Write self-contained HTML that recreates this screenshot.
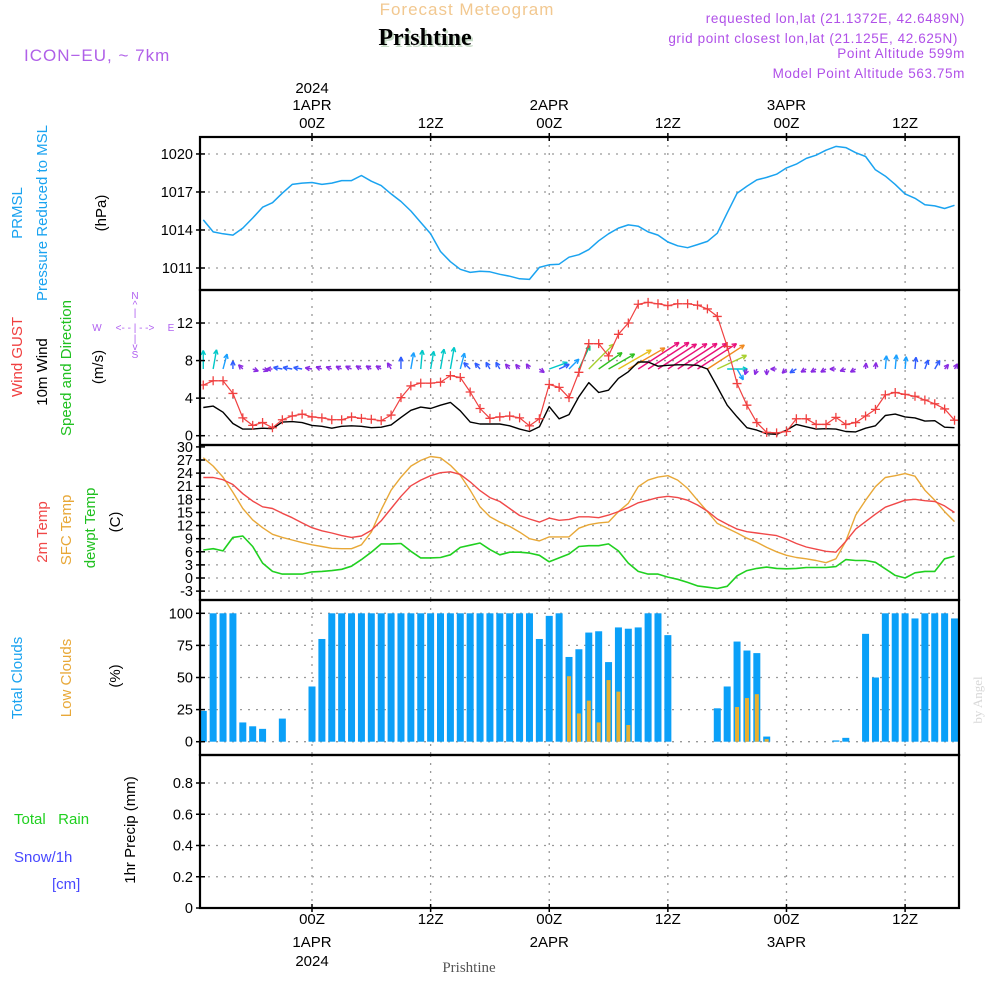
<!DOCTYPE html>
<html><head><meta charset="utf-8"><title>Forecast Meteogram Prishtine</title>
<style>
html,body{margin:0;padding:0;background:#fff;}
svg{display:block;font-family:"Liberation Sans",sans-serif;}
</style></head>
<body>
<svg id="chart" width="1000" height="1000" viewBox="0 0 1000 1000" xmlns="http://www.w3.org/2000/svg">
  <g id="header">
    <text x="467" y="15" font-size="17" fill="#f2c890" text-anchor="middle" letter-spacing="1">Forecast Meteogram</text>
    <text x="427" y="47" font-size="24" font-weight="bold" font-family="Liberation Serif, serif" fill="#c8dcc8" text-anchor="middle">Prishtine</text>
    <text x="425" y="45" font-size="24" font-weight="bold" font-family="Liberation Serif, serif" fill="#000" text-anchor="middle">Prishtine</text>
    <text x="24" y="61" font-size="17" fill="#b060e8" letter-spacing="1">ICON−EU, ~ 7km</text>
    <text x="965" y="23" font-size="13.5" fill="#b050e8" text-anchor="end" letter-spacing="0.6">requested lon,lat (21.1372E, 42.6489N)</text>
    <text x="958" y="43" font-size="13.5" fill="#b050e8" text-anchor="end" letter-spacing="0.6">grid point closest lon,lat (21.125E, 42.625N)</text>
    <text x="965" y="58" font-size="13.5" fill="#b050e8" text-anchor="end" letter-spacing="0.6">Point Altitude 599m</text>
    <text x="965" y="78" font-size="13.5" fill="#b050e8" text-anchor="end" letter-spacing="0.6">Model Point Altitude 563.75m</text>
  </g>
  <g id="left-labels" font-size="15">
    <text transform="translate(22,213) rotate(-90)" text-anchor="middle" fill="#1aa3f0">PRMSL</text>
    <text transform="translate(47,213) rotate(-90)" text-anchor="middle" fill="#1aa3f0">Pressure Reduced to MSL</text>
    <text transform="translate(106,213) rotate(-90)" text-anchor="middle" fill="#000">(hPa)</text>
    <text transform="translate(22,357) rotate(-90)" text-anchor="middle" fill="#f04040">Wind GUST</text>
    <text transform="translate(47,372) rotate(-90)" text-anchor="middle" fill="#000">10m Wind</text>
    <text transform="translate(71,368) rotate(-90)" text-anchor="middle" fill="#20c020">Speed and Direction</text>
    <text transform="translate(103,367) rotate(-90)" text-anchor="middle" fill="#000">(m/s)</text>
    <g fill="#b060f0" font-size="10" text-anchor="middle">
      <text x="135" y="299">N</text><text x="135" y="308">^</text><text x="135" y="316">|</text>
      <text x="97" y="331">W</text><text x="135" y="331">&lt;- - | - -&gt;</text><text x="171" y="331">E</text>
      <text x="135" y="342">|</text><text x="135" y="350">v</text><text x="135" y="358">S</text>
    </g>
    <text transform="translate(47,532) rotate(-90)" text-anchor="middle" fill="#f04848">2m Temp</text>
    <text transform="translate(71,530) rotate(-90)" text-anchor="middle" fill="#e8a838">SFC Temp</text>
    <text transform="translate(95,528) rotate(-90)" text-anchor="middle" fill="#20c020">dewpt Temp</text>
    <text transform="translate(120,522) rotate(-90)" text-anchor="middle" fill="#000">(C)</text>
    <text transform="translate(22,678) rotate(-90)" text-anchor="middle" fill="#1aa3f0">Total Clouds</text>
    <text transform="translate(71,678) rotate(-90)" text-anchor="middle" fill="#e8a838">Low Clouds</text>
    <text transform="translate(120,676) rotate(-90)" text-anchor="middle" fill="#000">(%)</text>
    <text x="14" y="824" fill="#20d020" xml:space="preserve">Total   Rain</text>
    <text x="14" y="862" fill="#4848ff">Snow/1h</text>
    <text x="52" y="889" fill="#4848ff">[cm]</text>
    <text transform="translate(135,830) rotate(-90)" text-anchor="middle" fill="#000">1hr Precip (mm)</text>
  </g>
  <g id="grid"></g>
  <g id="marks"></g>
  <g id="axes"></g>
  <text transform="translate(982,700) rotate(-90)" text-anchor="middle" font-size="13" font-family="Liberation Serif, serif" fill="#d8d8d8">by Angel</text>
  <text x="469" y="972" text-anchor="middle" font-size="15" font-family="Liberation Serif, serif" fill="#555">Prishtine</text>
</svg>
<script>
const hours = [];
for (let h = -11; h <= 65; h++) hours.push(h);
const pressure = [1014.8,1013.85,1013.7,1013.6,1014.15,1014.95,1015.8,1016.15,1016.9,1017.6,
1017.7,1017.75,1017.6,1017.7,1017.9,1017.9,1018.3,1017.85,1017.5,1016.85,
1016.25,1015.5,1014.6,1013.7,1012.3,1011.5,1010.9,1010.65,1010.75,1010.7,
1010.5,1010.35,1010.15,1010.1,1011.05,1011.25,1011.3,1011.85,1012.05,1012.45,
1013.15,1013.7,1014.15,1014.4,1014.3,1013.85,1013.6,1013.05,1012.75,1012.6,
1012.85,1013.1,1013.75,1015.35,1016.9,1017.45,1017.95,1018.15,1018.4,1018.9,
1019.2,1019.65,1019.9,1020.3,1020.6,1020.5,1020.1,1019.8,1018.75,1018.25,
1017.6,1016.85,1016.5,1016.0,1015.9,1015.7,1015.95];
const gust = [5.4,5.85,5.85,4.5,1.9,1.1,1.4,0.85,1.7,2.1,
2.3,2.0,1.9,1.7,1.7,2.0,1.85,1.75,1.6,2.2,
4.05,5.3,5.6,5.6,5.7,6.4,6.2,4.65,2.9,1.85,
2.0,2.1,1.9,1.05,1.8,5.45,5.15,4.05,6.75,9.8,
9.8,8.5,10.8,12.0,14.0,14.2,14.05,13.85,14.05,14.05,
13.9,13.5,12.7,9.5,5.55,3.25,1.4,0.35,0.3,0.45,
1.8,1.8,1.2,1.2,1.95,1.2,1.4,2.1,2.8,4.35,
4.6,4.4,4.2,3.8,3.4,2.85,1.65];
const windSpeed = [3.0,3.15,2.5,1.3,0.7,0.7,0.8,0.75,1.45,1.5,
1.4,1.1,1.0,0.8,1.0,1.05,1.0,0.85,0.9,1.15,
1.95,2.7,3.05,2.9,3.25,3.55,2.65,1.45,1.25,1.25,
1.25,1.05,0.7,0.45,0.95,3.1,1.8,2.25,4.15,5.65,
4.6,4.85,6.1,6.8,7.85,7.85,7.4,7.5,7.55,7.55,
7.5,7.1,5.2,3.25,2.0,0.85,0.6,0.2,0.15,0.6,
1.2,0.95,0.7,0.75,0.7,0.45,0.4,0.8,1.05,2.15,
2.3,2.0,1.9,1.55,1.6,0.9,0.85];
const windDir = [0,10,15,0,315,110,110,270,280,280,
280,280,290,290,295,295,300,300,300,330,
0,10,5,10,10,10,15,315,320,330,
330,320,320,330,125,70,65,45,25,45,
55,60,60,60,57,57,57,57,57,57,
57,57,65,90,150,200,200,180,270,225,
240,240,240,240,270,250,240,5,5,5,
5,5,5,20,30,40,30];
const temp2m = [23.0,23.0,22.5,21.4,19.3,17.6,16.3,15.9,14.8,13.8,
12.6,11.5,10.8,10.3,9.7,9.3,9.6,10.9,13.1,15.9,
18.7,21.1,22.4,23.4,24.1,24.3,23.7,22.0,20.0,18.4,
17.5,15.9,14.3,13.5,12.8,13.7,13.2,13.4,14.0,14.0,
13.8,14.4,15.2,16.1,17.2,17.8,18.4,18.7,18.4,17.8,
16.7,15.3,13.5,12.3,11.2,10.6,10.3,10.0,9.7,8.9,
7.9,7.1,6.6,6.1,5.9,8.4,11.2,12.9,14.6,16.2,
17.0,17.8,18.0,17.7,17.5,16.5,15.0];
const tempSfc = [27.5,25.6,23.1,19.6,15.9,13.3,11.5,10.0,9.3,8.7,
8.1,7.6,7.2,6.8,6.7,6.7,7.6,10.5,15.6,20.1,
23.1,25.6,26.9,27.8,27.5,25.8,23.5,20.1,16.3,14.0,
12.8,11.8,10.5,9.0,8.5,9.4,9.4,9.4,11.4,12.2,
12.6,12.8,15.2,17.1,20.9,22.4,23.1,23.4,22.4,20.5,
17.8,15.2,12.5,11.4,10.3,9.1,8.2,7.0,6.0,5.2,
4.7,4.4,4.0,3.5,4.4,8.4,14.4,17.8,20.9,23.0,
23.4,23.9,23.3,20.1,17.8,15.2,12.9];
const dewpoint = [6.4,6.7,6.2,9.3,9.6,7.2,3.4,1.5,0.9,0.9,
0.9,1.4,1.5,1.7,2.0,2.7,4.2,5.9,7.8,7.8,
7.9,6.1,4.6,4.6,4.7,5.3,7.0,7.5,8.0,6.5,
5.3,5.9,5.9,5.7,5.2,3.7,4.6,5.5,7.2,7.4,
7.4,7.8,6.2,3.4,1.5,0.9,0.9,0.2,-0.3,-1.0,
-1.8,-2.1,-2.4,-1.9,0.5,1.7,2.2,2.5,2.2,2.1,
2.2,2.4,2.4,2.4,2.6,4.2,4.0,4.0,3.6,2.1,
0.6,0.0,1.2,1.5,1.5,4.4,5.0];
const totalClouds = [24,100,100,100,15,12,10,0,18,0,
0,43,80,100,100,100,100,100,100,100,
100,100,100,100,100,100,100,100,100,100,
100,100,100,100,80,98,100,66,72,85,
86,62,89,88,89,100,100,83,0,0,
0,0,26,43,78,71,69,4,0,0,
0,0,0,0,1,3,0,84,50,100,
100,100,96,100,100,100,96];
const lowClouds = [0,0,0,0,0,0,0,0,0,0,
0,0,0,0,0,0,0,0,0,0,
0,0,0,0,0,0,0,0,0,0,
0,0,0,0,0,0,0,51,22,32,
15,48,39,13,0,0,0,0,0,0,
0,0,0,0,27,34,37,2,0,0,
0,0,0,0,0,0,0,0,0,0,
0,0,0,0,0,0,0];
const precip = hours.map(() => 0);
const pressureTicks = [1011,1014,1017,1020];
const windTicks = [0,4,8,12];
const tempTicks = [-3,0,3,6,9,12,15,18,21,24,27,30];
const cloudTicks = [0,25,50,75,100];
const precipTicks = [0,0.2,0.4,0.6,0.8];
const timeTicks = [0,12,24,36,48,60];
const timeLabels = ["00Z","12Z","00Z","12Z","00Z","12Z"];
const dayLabels = {0:"1APR",24:"2APR",48:"3APR"};

const NS = "http://www.w3.org/2000/svg";
const L = 200, R = 959;
const xH = h => 312 + 9.885 * h;
const panels = {
  p: {top:137, bot:290, y: v => 268 - (v - 1011) * 12.67},
  w: {top:290, bot:445, y: v => 435.7 - v * 9.39},
  t: {top:445, bot:600, y: v => 578 - v * 4.37},
  c: {top:600, bot:755, y: v => 741.7 - v * 1.284},
  r: {top:755, bot:908, y: v => 908 - v * 156.25}
};
function mk(tag, attrs, parent) {
  const e = document.createElementNS(NS, tag);
  for (const k in attrs) e.setAttribute(k, attrs[k]);
  parent.appendChild(e);
  return e;
}
const grid = document.getElementById('grid');
const marks = document.getElementById('marks');
const axes = document.getElementById('axes');

function yAxis(key, ticks, fmt) {
  const P = panels[key];
  ticks.forEach(t => {
    const y = P.y(t);
    if (y > P.top + 2 && y < P.bot - 2) {
      const g = mk('line', {x1:L, x2:R, y1:y, y2:y, stroke:'#999', 'stroke-width':1.3, 'stroke-dasharray':'2,6'}, grid);
      
      
    }
    const tk = mk('line', {x1:L-4, x2:L+5, y1:y, y2:y, stroke:'#000', 'stroke-width':1.5}, axes);
    
    
    const tx = mk('text', {x:L-7, y:y+5, 'font-size':14.5, 'text-anchor':'end', fill:'#000'}, axes);
    tx.textContent = fmt ? fmt(t) : t;
    
    
  });
  timeTicks.forEach(h => {
    const x = xH(h);
    const g = mk('line', {x1:x, x2:x, y1:P.top, y2:P.bot, stroke:'#999', 'stroke-width':1.3, 'stroke-dasharray':'2,6'}, grid);
    
    
  });
  const fr = mk('rect', {x:L, y:P.top, width:R-L, height:P.bot-P.top, fill:'none', stroke:'#000', 'stroke-width':2.2}, axes);
  
  
}
yAxis('p', pressureTicks);
yAxis('w', windTicks);
yAxis('t', tempTicks);
yAxis('c', cloudTicks);
yAxis('r', precipTicks, v => v === 0 ? '0' : v.toFixed(1));

// time labels
timeTicks.forEach((h, i) => {
  const x = xH(h);
  const t1 = mk('text', {x:x, y:128, 'font-size':15, 'text-anchor':'middle', fill:'#000'}, axes);
  t1.textContent = timeLabels[i];
  
  
  const t2 = mk('text', {x:x, y:924, 'font-size':15, 'text-anchor':'middle', fill:'#000'}, axes);
  t2.textContent = timeLabels[i];
  
  
  if (dayLabels[h]) {
    const d1 = mk('text', {x:x, y:110, 'font-size':15, 'text-anchor':'middle', fill:'#000'}, axes);
    d1.textContent = dayLabels[h];
    
    
    const d2 = mk('text', {x:x, y:947, 'font-size':15, 'text-anchor':'middle', fill:'#000'}, axes);
    d2.textContent = dayLabels[h];
    
    
  }
  [137,908].forEach(yy => {
    const tk = mk('line', {x1:x, x2:x, y1:yy-4, y2:yy+4, stroke:'#000', 'stroke-width':1.5}, axes);
    
    
  });
});
const y1 = mk('text', {x:xH(0), y:93, 'font-size':15, 'text-anchor':'middle', fill:'#000'}, axes);
y1.textContent = '2024';


const y2 = mk('text', {x:xH(0), y:966, 'font-size':15, 'text-anchor':'middle', fill:'#000'}, axes);
y2.textContent = '2024';



// clip
const defs = mk('defs', {}, marks);
const cp = mk('clipPath', {id:'plotclip'}, defs);
mk('rect', {x:L, y:130, width:R-L, height:790}, cp);
const layer = mk('g', {'clip-path':'url(#plotclip)'}, marks);



function line(arr, key, color, name, w) {
  const pts = arr.map((v, i) => xH(hours[i]).toFixed(1) + ',' + panels[key].y(v).toFixed(1)).join(' ');
  const pl = mk('polyline', {points:pts, fill:'none', stroke:color, 'stroke-width':w || 1.4, 'stroke-linejoin':'round'}, layer);
  
  
  return pl;
}
line(pressure, 'p', '#1aa3f0', 'pressure-line', 1.5);

// clouds
totalClouds.forEach((v, i) => {
  if (v <= 0) return;
  const x = xH(hours[i]), y = panels.c.y(v);
  const b = mk('rect', {x:x-3.5, y:y, width:7, height:panels.c.y(0)-y, fill:'#0aa0f8'}, layer);
  
  
});
lowClouds.forEach((v, i) => {
  if (v <= 0) return;
  const x = xH(hours[i]), y = panels.c.y(v);
  const b = mk('rect', {x:x-2, y:y, width:4, height:panels.c.y(0)-y, fill:'#e8b030'}, layer);
  
  
});
precip.forEach((v, i) => {
  if (v <= 0) return;
  const x = xH(hours[i]), y = panels.r.y(v);
  const b = mk('rect', {x:x-3.5, y:y, width:7, height:908-y, fill:'#20d020'}, layer);
  
  
});

// temperature
line(tempSfc, 't', '#e8a838', 'sfc-temp-line', 1.4);
line(temp2m, 't', '#f04848', 'temp-2m-line', 1.4);
line(dewpoint, 't', '#20d020', 'dewpoint-line', 1.6);

// wind
function windColor(s) {
  if (s < 1.2) return '#8a2be2';
  if (s < 2) return '#2f5cff';
  if (s < 2.8) return '#1aa0ff';
  if (s < 3.6) return '#00c8c8';
  if (s < 4.4) return '#00c080';
  if (s < 5.2) return '#30c020';
  if (s < 5.9) return '#a8d030';
  if (s < 6.5) return '#e8c020';
  if (s < 7.2) return '#f08a20';
  return '#e8107a';
}
windSpeed.forEach((s, i) => {
  const x0 = xH(hours[i]), y0 = 369;
  const len = Math.max(6, s * 6.2);
  const a = windDir[i] * Math.PI / 180;
  const x1 = x0 + Math.sin(a) * len, yy1 = y0 - Math.cos(a) * len;
  const c = windColor(s);
  const g = mk('g', {stroke:c, 'stroke-width':1.4, fill:'none'}, layer);
  
  
  mk('line', {x1:x0, y1:y0, x2:x1, y2:yy1}, g);
  const hl = 5;
  [a + Math.PI - 0.45, a + Math.PI + 0.45].forEach(b => {
    mk('line', {x1:x1, y1:yy1, x2:x1 + Math.sin(b)*hl, y2:yy1 - Math.cos(b)*hl}, g);
  });
});
line(windSpeed, 'w', '#000', 'wind-speed-line', 1.4);
line(gust, 'w', '#f04040', 'gust-line', 1.2);
gust.forEach((v, i) => {
  const x = xH(hours[i]), y = panels.w.y(v);
  const p = mk('path', {d:`M${x-4.5},${y}H${x+4.5}M${x},${y-4.5}V${y+4.5}`, stroke:'#f04040', 'stroke-width':1.3}, layer);
  
  
});
</script>
</body></html>
